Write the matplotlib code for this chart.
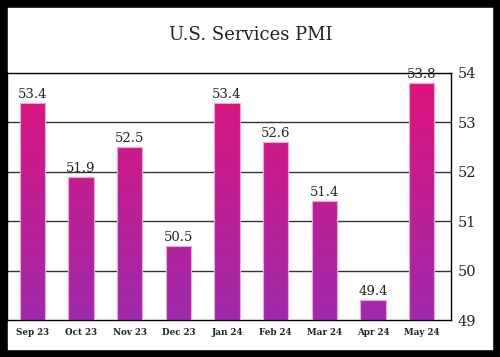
import numpy as np
import matplotlib
matplotlib.use("Agg")
import matplotlib.pyplot as plt
from matplotlib.colors import LinearSegmentedColormap
from matplotlib.patches import Rectangle

# ------------------------------- data -------------------------------
months = ["Sep 23", "Oct 23", "Nov 23", "Dec 23", "Jan 24",
          "Feb 24", "Mar 24", "Apr 24", "May 24"]
pmi = [53.4, 51.9, 52.5, 50.5, 53.4, 52.6, 51.4, 49.4, 53.8]
y_ticks = [49, 50, 51, 52, 53, 54]

plt.rcParams["font.family"] = ["DejaVu Serif"]

fig = plt.figure(figsize=(5.0, 3.57), dpi=100)
ax = fig.add_axes([0.014, 0.1036, 0.888, 0.692])

ymin, ymax = 49, 54
xmin, xmax = -0.52, 8.6
ax.set_xlim(xmin, xmax)
ax.set_ylim(ymin, ymax)

# gradient purple (bottom) -> pink (top), tied to the value axis
cmap = LinearSegmentedColormap.from_list("pmi", ["#9f2aac", "#e0137a"])
grad = np.linspace(0, 1, 256).reshape(-1, 1)

bars = ax.bar(range(len(months)), [v - ymin for v in pmi], bottom=ymin,
              width=0.52, facecolor="none", edgecolor="#f2a6d6",
              linewidth=0.8, zorder=3)
for b in bars:
    im = ax.imshow(grad, cmap=cmap, origin="lower", aspect="auto",
                   extent=[xmin, xmax, ymin, ymax], zorder=2)
    im.set_clip_path(b)

for i, v in enumerate(pmi):
    ax.annotate(f"{v:.1f}", (i, v), xytext=(0, 1.5), textcoords="offset points",
                ha="center", va="bottom", fontsize=9.5, color="#222222",
                zorder=4)

# grid lines behind the bars
for t in y_ticks[1:-1]:
    ax.axhline(t, color="#333333", linewidth=1.0, zorder=1)

ax.set_xticks(range(len(months)))
ax.set_xticklabels(months, fontsize=6.3, color="#222222", fontweight="bold")
ax.tick_params(axis="x", length=0, pad=6)
ax.yaxis.tick_right()
ax.set_yticks(y_ticks)
ax.tick_params(axis="y", length=0, pad=5, labelsize=10.5, labelcolor="#222222")
for s in ax.spines.values():
    s.set_color("black")
    s.set_linewidth(1.0)

fig.text(0.502, 0.902, "U.S. Services PMI", ha="center", va="center",
         fontsize=13, color="#222222")

# thick black frame around the whole picture
fig.patches.append(Rectangle((0, 0), 1, 1, transform=fig.transFigure,
                             fill=False, edgecolor="black", linewidth=10.5,
                             zorder=10))

fig.savefig("out.png", dpi=100)
